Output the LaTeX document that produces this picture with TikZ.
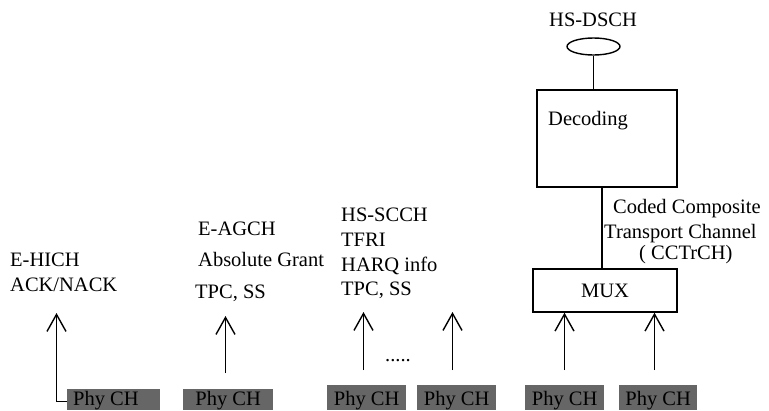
\documentclass[tikz,border=0pt]{standalone}
\usepackage{fontspec}
\setmainfont{Liberation Serif}
\usetikzlibrary{arrows.meta,shapes.geometric}
\definecolor{phygray}{RGB}{102,102,102}
\begin{document}
\begin{tikzpicture}[x=1pt,y=-1pt,
  every node/.style={font=\fontsize{20.5}{24}\selectfont},
  lbl/.style={anchor=base west,inner sep=0pt},
  phybox/.style={fill=phygray,inner xsep=0pt,inner ysep=0pt,anchor=north west},
  frame/.style={draw,line width=1.4pt,inner sep=0pt},
  conn/.style={line width=1.4pt},
  arr/.style={line width=1.4pt,-{Straight Barb[length=17pt,width=19pt]}}]
\clip (0,0) rectangle (769,410);
\useasboundingbox (0,0) rectangle (769,410);
\fill[white] (0,0) rectangle (769,410);

% Phy CH boxes
\node[phybox,minimum width=92pt,text height=16.5pt,text depth=4.5pt] (p1) at (67,389) {\hspace*{6pt}Phy CH\hspace*{21pt}};
\node[phybox,minimum width=90pt,text height=16.5pt,text depth=4.5pt] (p2) at (183,389) {Phy CH};
\node[phybox,minimum width=79pt,text height=20.5pt,text depth=4.5pt] (p3) at (327,385) {Phy CH};
\node[phybox,minimum width=79pt,text height=20.5pt,text depth=4.5pt] (p4) at (417,385) {Phy CH};
\node[phybox,minimum width=79pt,text height=20.5pt,text depth=4.5pt] (p5) at (525,385) {Phy CH};
\node[phybox,minimum width=78pt,text height=20.5pt,text depth=4.5pt] (p6) at (619,385) {Phy CH};

% labels
\node[lbl] (t1a) at (10,266.5) {E-HICH};
\node[lbl] (t1b) at (10,291.5) {ACK/NACK};
\node[lbl] (t2a) at (198,235) {E-AGCH};
\node[lbl] (t2b) at (198,266.5) {Absolute Grant};
\node[lbl] (t2c) at (195,298) {TPC, SS};
\node[lbl] (t3a) at (341,221) {HS-SCCH};
\node[lbl] (t3b) at (341,246) {TFRI};
\node[lbl] (t3c) at (341,271) {HARQ info};
\node[lbl] (t3d) at (341,295.5) {TPC, SS};
\node[lbl] (dots) at (385,361) {.....};
\node[lbl] (c1) at (613,213) {Coded Composite};
\node[lbl] (c2) at (604,238) {Transport Channel};
\node[lbl] (c3) at (639,259) {( CCTrCH)};

% upper chain
\node[lbl] (hs) at (549,26) {HS-DSCH};
\node[draw,ellipse,line width=1.4pt,minimum width=53pt,minimum height=17pt,inner sep=0pt] (ell) at (593.5,46.5) {};
\node[frame,minimum width=140pt,minimum height=97pt] (dec) at (607,138.5) {};
\node[lbl] (dectxt) at (548,125) {Decoding};
\node[frame,minimum width=144pt,minimum height=43pt] (mux) at (605,290.5) {MUX};

\draw[conn] (ell.south) -- (ell.south |- dec.north);
\draw[conn] ([xshift=-3pt]mux.north) -- ([xshift=-3pt]mux.north |- dec.south);

% arrows
\coordinate (a1) at (56.5,313);
\coordinate (a2s) at (225.5,373);
\coordinate (a2e) at (225.5,316);
\coordinate (a3s) at (363.5,370);
\coordinate (a3e) at (363.5,312);
\coordinate (a4s) at (452.5,370);
\coordinate (a4e) at (452.5,312);
\coordinate (a5s) at (564.5,370);
\coordinate (a6s) at (654.5,370);

\draw[arr] ([yshift=-1.5pt]p1.west) -| (a1);
\draw[arr] (a2s) -- (a2e);
\draw[arr] (a3s) -- (a3e);
\draw[arr] (a4s) -- (a4e);
\draw[arr] (a5s) -- (a5s |- mux.south);
\draw[arr] (a6s) -- (a6s |- mux.south);
\end{tikzpicture}
\end{document}
